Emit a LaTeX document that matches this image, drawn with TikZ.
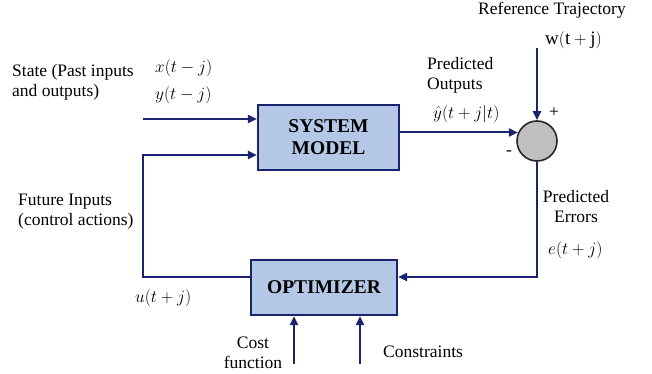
\documentclass[tikz,border=0pt]{standalone}
\usepackage{fontspec}
\setmainfont{Liberation Serif}
\usetikzlibrary{arrows.meta,positioning}
\definecolor{mpcnavy}{RGB}{25,35,110}
\definecolor{mpcblue}{RGB}{180,199,231}
\definecolor{mpcgray}{RGB}{192,192,192}

\begin{document}
\begin{tikzpicture}[x=1pt,y=-1pt,
    lbl/.style={font=\fontsize{17.5}{20}\selectfont,inner sep=0pt,align=left},
    mathlbl/.style={lbl,font=\fontsize{19}{20}\selectfont},
    blockbox/.style={draw=mpcnavy,fill=mpcblue,line width=2.2pt,
      font=\fontsize{19.5}{22}\selectfont\bfseries,align=center,inner sep=0pt},
    sumnode/.style={circle,draw=black!85,fill=mpcgray,line width=1.6pt,minimum size=40pt,inner sep=0pt},
    sigarrow/.style={draw=mpcnavy,line width=2pt,-{Triangle[length=9pt,width=8pt]}}]
  % frame
  \useasboundingbox (0,0) rectangle (652,374);
  % blocks
  \node[blockbox,minimum width=141pt,minimum height=65pt] (sysmodel) at (328.5,137.5) {SYSTEM\\MODEL};
  \node[blockbox,minimum width=146pt,minimum height=55pt] (optimizer) at (324,287.5) {OPTIMIZER};
  \node[sumnode] (sum) at (537,141) {};
  % free ends of the signals
  \coordinate (stin) at (143,119);
  \coordinate (fbtop) at (143,155);
  \coordinate (fbcorner) at (143,277);
  \coordinate (wtop) at (537,48);
  \coordinate (costin) at (294,364);
  \coordinate (consin) at (360,364);
  % signals
  \draw[sigarrow] (stin) -- (stin -| sysmodel.west);
  \draw[sigarrow] ([yshift=10.5pt]optimizer.west) -- (fbcorner) -- (fbtop) -- (fbtop -| sysmodel.west);
  \draw[sigarrow] ([yshift=5pt]sysmodel.east) -- ([yshift=5pt]sysmodel.east -| sum.157);
  \draw[sigarrow] (wtop) -- (sum.north);
  \draw[sigarrow] (sum.south) |- ([yshift=10.5pt]optimizer.east);
  \draw[sigarrow] (costin) -- (costin |- optimizer.south);
  \draw[sigarrow] (consin) -- (consin |- optimizer.south);
  % labels
  \node[lbl,anchor=west] (statelbl) at (12,82) {State (Past inputs\\and outputs)};
  \node[mathlbl,anchor=west] (xlbl) at (155,68) {$x(t-j)$};
  \node[mathlbl,anchor=west] (ylbl) at (155,95) {$y(t-j)$};
  \node[lbl,anchor=west] (futurelbl) at (18,212) {Future Inputs\\(control actions)};
  \node[mathlbl,anchor=west] (ulbl) at (135,298) {$u(t+j)$};
  \node[lbl] (reflbl) at (552,10) {Reference Trajectory};
  \node[mathlbl,anchor=west] (wlbl) at (545,40) {$\mathrm{w}(\mathrm{t}+\mathrm{j})$};
  \node[lbl,anchor=west] (predlbl) at (427,75) {Predicted\\Outputs};
  \node[mathlbl,anchor=west] (yhatlbl) at (433,114) {$\hat{y}(t+j|t)$};
  \node[lbl] (pluslbl) at (554,113) {+};
  \node[lbl] (minuslbl) at (509,153) {-};
  \node[lbl,align=center] (errlbl) at (576,207) {Predicted\\Errors};
  \node[mathlbl,anchor=west] (elbl) at (548,250) {$e(t+j)$};
  \node[lbl,align=center] (costlbl) at (253,353) {Cost\\function};
  \node[lbl,anchor=west] (conslbl) at (383,352) {Constraints};
\end{tikzpicture}
\end{document}
